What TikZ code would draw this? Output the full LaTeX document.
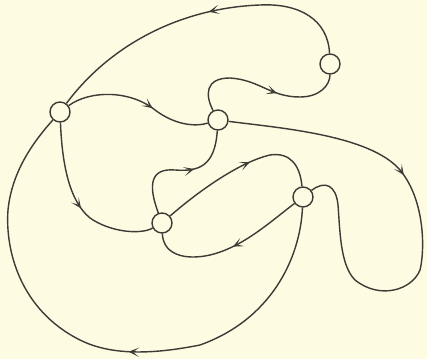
\documentclass[tikz,border=0pt]{standalone}
\usetikzlibrary{arrows.meta,decorations.markings}
\definecolor{paper}{RGB}{253,251,226}
\definecolor{ink}{RGB}{62,58,54}

\begin{document}
\begin{tikzpicture}[x=.025cm,y=-.025cm,line width=1pt,draw=ink,
 vx/.style={circle,draw=ink,fill=paper,line width=1pt,minimum size=.5cm,inner sep=0pt},
 mid/.style={postaction={decorate},decoration={markings,
  mark=at position #1 with {\arrow{Stealth[length=2.6mm,width=2.3mm,inset=1.5mm]}}}}]
 \fill[paper] (0,0) rectangle (427,359);
 \useasboundingbox (0,0) rectangle (427,359);
 \node[vx] (l) at (60,112) {};\node[vx] (m) at (218,120) {};
 \node[vx] (t) at (330,64) {};\node[vx] (d) at (162,223) {};
 \node[vx] (r) at (303,197) {};
 \draw[ink,mid=.46] (t) .. controls (328,20) and (300,3) .. (260,5)
  .. controls (180,8) and (110,45) .. (l);
 \draw[ink,mid=.6] (m) .. controls (205,95) and (205,78) .. (230,78)
  .. controls (260,80) and (270,97) .. (300,97) .. controls (320,97) and (330,85) .. (t);
 \draw[ink,mid=.6] (l) .. controls (90,90) and (130,90) .. (155,110)
  .. controls (175,125) and (195,127) .. (m);
 \draw[ink,mid=.39] (m) .. controls (280,128) and (370,135) .. (400,170)
  .. controls (425,200) and (425,250) .. (420,270) .. controls (412,290) and (380,300) .. (355,280)
  .. controls (340,265) and (340,230) .. (338,205) .. controls (336,185) and (325,180) .. (r);
 \draw[ink,mid=.53] (l) .. controls (62,160) and (68,200) .. (90,218)
  .. controls (110,232) and (140,235) .. (d);
 \draw[ink,mid=.45] (r) .. controls (300,260) and (270,320) .. (200,345)
  .. controls (150,355) and (110,355) .. (80,340) .. controls (20,310) and (5,250) .. (8,210)
  .. controls (12,170) and (35,140) .. (l);
 \draw[ink,mid=.62] (d) .. controls (148,185) and (150,168) .. (175,170)
  .. controls (200,172) and (215,165) .. (m);
 \draw[ink,mid=.57] (d) .. controls (200,190) and (240,162) .. (270,155)
  .. controls (290,152) and (300,165) .. (r);
 \draw[ink,mid=.47] (r) .. controls (270,222) and (240,250) .. (205,256)
  .. controls (180,260) and (163,252) .. (d);
\end{tikzpicture}
\end{document}
